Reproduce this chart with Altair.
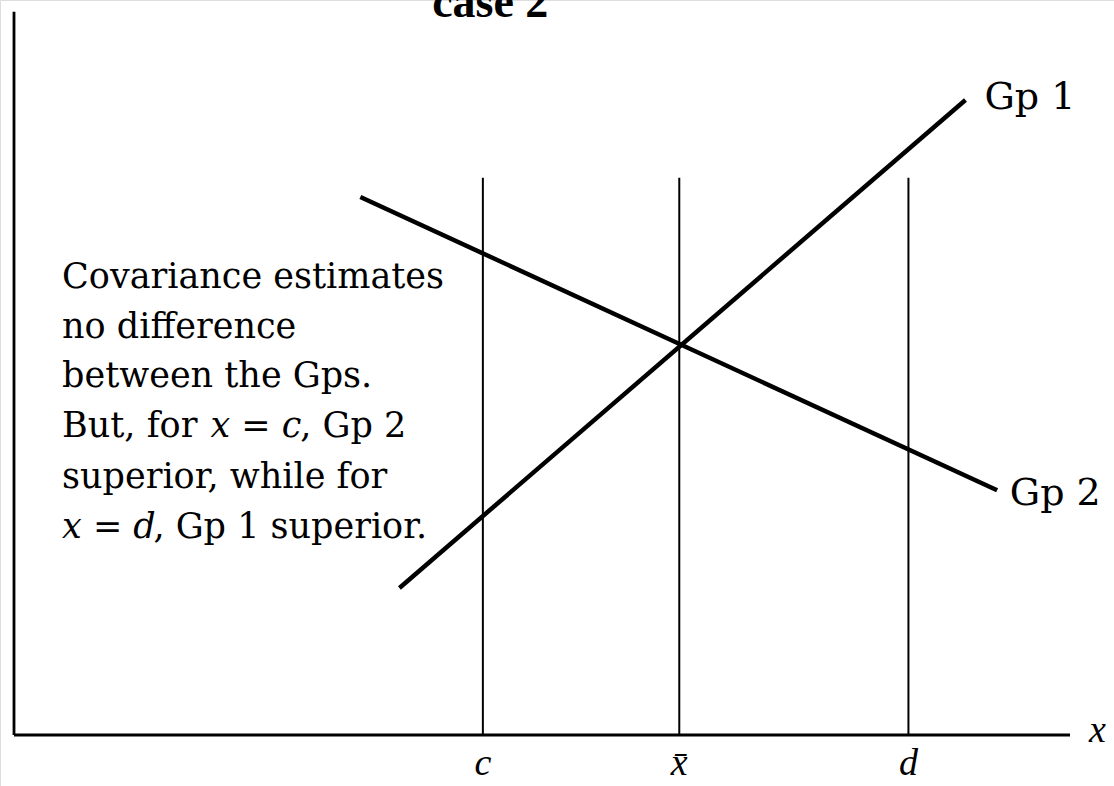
import altair as alt
import pandas as pd

# Diagram coordinates (arbitrary units: x runs 0..100 along the axis, y 0..100 up the axis)
x_c, x_bar, x_d = 44.4, 63.0, 84.7
vline_top = 75.8
yaxis_top = 98.4
xaxis_end = 100.0

gp1_x = [36.5, 90.1]
gp1_y = [20.0, 86.4]
gp2_x = [32.8, 93.1]
gp2_y = [73.2, 33.3]

note_lines = [
    "Covariance estimates",
    "no difference",
    "between the Gps.",
]
note_y = [60.8, 54.0, 47.3, 40.5, 33.6, 26.8]

SERIF = "DejaVu Serif"
NOTE_SIZE = 35

xs = alt.Scale(domain=[0, 100], range=[14, 1070], nice=False, zero=False)
ys = alt.Scale(domain=[0, 100], range=[735, 0], nice=False, zero=False)


def X(field="x"):
    return alt.X(f"{field}:Q", scale=xs, axis=None)


def Y(field="y"):
    return alt.Y(f"{field}:Q", scale=ys, axis=None)


# axes
axes_df = pd.DataFrame({
    "x": [0, 0], "y": [0, 0],
    "x2": [0, xaxis_end], "y2": [yaxis_top, 0],
})
axes = alt.Chart(axes_df).mark_rule(color="black", strokeWidth=2.8).encode(
    x=X(), y=Y(), x2="x2:Q", y2="y2:Q"
)

# vertical reference lines at c, x-bar, d
vl_df = pd.DataFrame({"x": [x_c, x_bar, x_d], "y": [0, 0, 0], "y2": [vline_top] * 3})
vlines = alt.Chart(vl_df).mark_rule(color="black", strokeWidth=2).encode(
    x=X(), y=Y(), y2="y2:Q"
)

# the two group regression lines
lines_df = pd.DataFrame({
    "x": gp1_x + gp2_x,
    "y": gp1_y + gp2_y,
    "g": ["Gp 1", "Gp 1", "Gp 2", "Gp 2"],
})
glines = alt.Chart(lines_df).mark_line(color="black", strokeWidth=4.5).encode(
    x=X(), y=Y(), detail="g:N"
)

# group labels
glab_df = pd.DataFrame({"x": [91.9, 94.3], "y": [86.6, 32.8], "t": ["Gp 1", "Gp 2"]})
glabels = alt.Chart(glab_df).mark_text(
    font=SERIF, fontSize=38, align="left", baseline="middle", color="black"
).encode(x=X(), y=Y(), text="t:N")

# annotation text: regular and italic runs
reg_df = pd.DataFrame({
    "x": [4.55, 4.55, 4.55, 4.55, 27.1, 4.55, 13.2],
    "y": [note_y[0], note_y[1], note_y[2], note_y[3], note_y[3], note_y[4], note_y[5]],
    "t": note_lines + ["But, for", ", Gp 2", "superior, while for", ", Gp 1 superior."],
})
reg_text = alt.Chart(reg_df).mark_text(
    font=SERIF, fontSize=NOTE_SIZE, align="left", baseline="alphabetic", color="black"
).encode(x=X(), y=Y(), text="t:N")

ital_df = pd.DataFrame({
    "x": [18.6, 4.55],
    "y": [note_y[3], note_y[5]],
    "t": ["x = c", "x = d"],
})
ital_text = alt.Chart(ital_df).mark_text(
    font=SERIF, fontSize=NOTE_SIZE, fontStyle="italic", align="left", baseline="alphabetic",
    color="black"
).encode(x=X(), y=Y(), text="t:N")

# tick labels on the x axis and the axis name
tick_df = pd.DataFrame({"x": [x_c, x_bar, x_d], "y": [-5.4] * 3, "t": ["c", "x\u0304", "d"]})
ticks = alt.Chart(tick_df).mark_text(
    font="Liberation Serif", fontSize=38, fontStyle="italic", align="center",
    baseline="alphabetic", color="black"
).encode(x=X(), y=Y(), text="t:N")

xname_df = pd.DataFrame({"x": [101.8], "y": [-1.0], "t": ["x"]})
xname = alt.Chart(xname_df).mark_text(
    font="Liberation Serif", fontSize=38, fontStyle="italic", align="left",
    baseline="alphabetic", color="black"
).encode(x=X(), y=Y(), text="t:N")

# heading
title_df = pd.DataFrame({"x": [45.1], "y": [97.7], "t": ["case 2"]})
title = alt.Chart(title_df).mark_text(
    font="Liberation Serif", fontSize=46, fontWeight="bold", align="center",
    baseline="alphabetic", color="black"
).encode(x=X(), y=Y(), text="t:N")

chart = alt.layer(
    axes, vlines, glines, glabels, reg_text, ital_text, ticks, xname, title
).properties(
    width=1114, height=786, padding=0, autosize=alt.AutoSizeParams(type="none")
).configure_view(stroke=None).configure(background="white")

chart.save("out.html", embed_options={"renderer": "svg", "actions": False})
